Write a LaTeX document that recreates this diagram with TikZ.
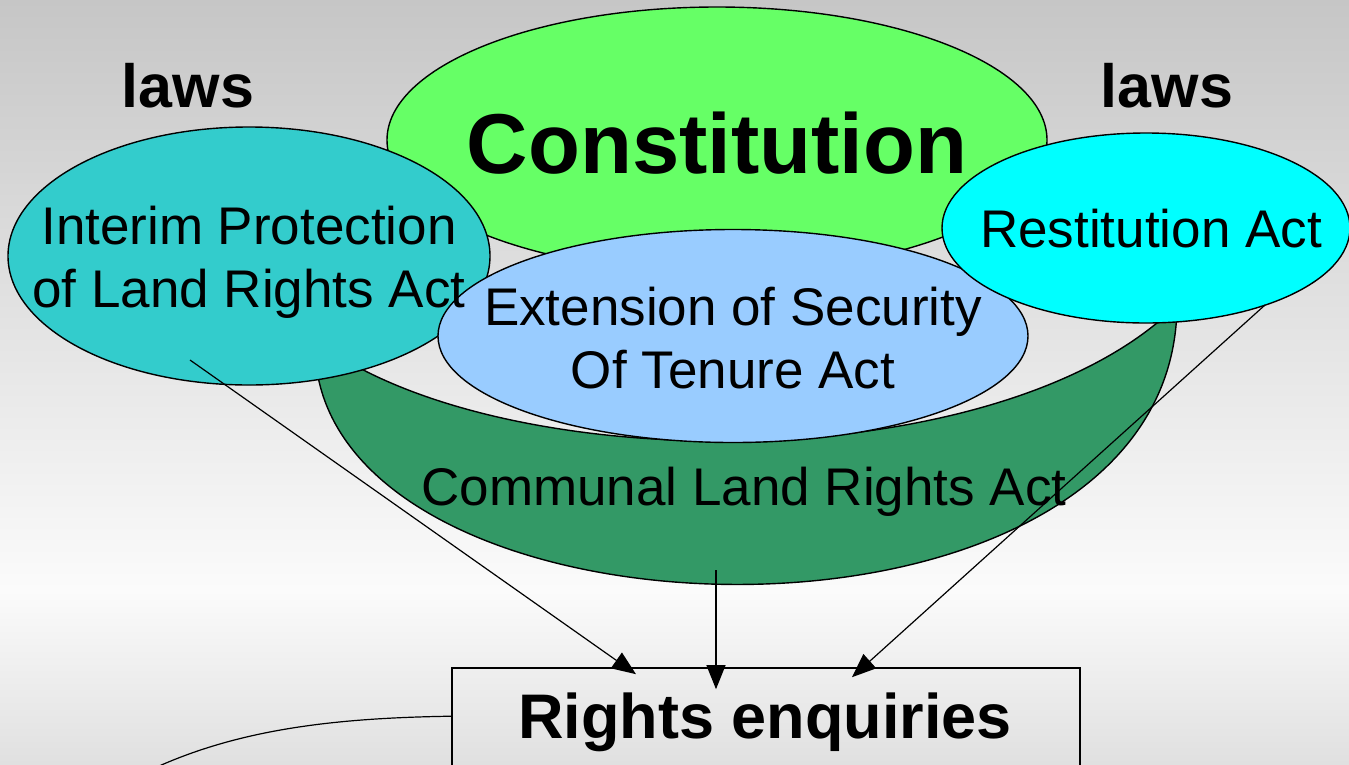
\documentclass[tikz,border=0pt]{standalone}
\usepackage{fontspec}
\setmainfont{Liberation Sans}
\usetikzlibrary{shapes.geometric,arrows.meta,calc}
\definecolor{constgreen}{HTML}{66FF66}
\definecolor{interimteal}{HTML}{33CCCC}
\definecolor{restcyan}{HTML}{00FFFF}
\definecolor{esablue}{HTML}{99CCFF}
\definecolor{clragreen}{HTML}{339966}
\definecolor{slidetop}{HTML}{C6C6C6}
\definecolor{slidemid}{HTML}{FBFBFB}
\definecolor{slidebot}{HTML}{E0E0E0}

\begin{document}
\begin{tikzpicture}[x=1pt,y=-1pt,
  act/.style={ellipse,draw,line width=1.4pt,inner sep=0pt},
  txt/.style={font=\fontsize{53}{63}\selectfont,align=center},
  big/.style={font=\fontsize{#1}{#1}\selectfont\bfseries},
  feed/.style={line width=1.2pt,-{Triangle[length=24pt,width=19pt]}}]
\clip (0,0) rectangle (1349,764);
\shade[top color=slidetop,bottom color=slidemid] (0,0) rectangle (1349,590);
\shade[top color=slidemid,bottom color=slidebot] (0,590) rectangle (1349,764);
\node [act,fill=constgreen,minimum width=660pt,minimum height=266pt] (const) at (717,140) {};
\filldraw [fill=clragreen,line width=1.4pt] (315,350) .. controls (325,660) and (1175,680) .. (1177,305)
  .. controls (1000,480) and (500,480) .. (315,340) -- cycle;
\node [act,fill=interimteal,minimum width=482pt,minimum height=258pt] (ip) at (249,256) {};
\node [act,fill=esablue,minimum width=590pt,minimum height=213pt] (esta) at (733,336) {};
\node [act,fill=restcyan,minimum width=408pt,minimum height=190pt] (ra) at (1146,228) {};
\node [big=85,anchor=base] (consttxt) at (717,173) {Constitution};
\node [big=61,anchor=base] (lawsl) at (188,107) {laws};
\node [big=61,anchor=base] (lawsr) at (1167,107) {laws};
\node [txt] (iptxt) at (249,262) {Interim Protection\\of Land Rights Act};
\node [txt] (estatxt) at (733,338) {Extension of Security\\Of Tenure Act};
\node [txt,anchor=base] (ratxt) at (1151,247) {Restitution Act};
\node [txt,anchor=base] (clra) at (744,505) {Communal Land Rights Act};
\node [draw,line width=1.6pt,minimum width=628pt,minimum height=140pt] (enq) at (766,738) {};
\node [big=63,anchor=base] (enqtxt) at (765,738) {Rights enquiries};
\coordinate (ipfoot) at (190,360);
\coordinate (clrafoot) at (716,570);
\coordinate (rafoot) at (1265,305);
\coordinate (offleft) at (140,775);
\draw [feed] (ipfoot) -- ($(enq.north)+(-130,7)$);
\draw [feed] (clrafoot) -- ($(enq.north)+(-50,22)$);
\draw [feed] (rafoot) -- ($(enq.north)+(86,10)$);
\draw [line width=1.2pt] ($(enq.north west)+(0,49)$) .. controls (330,718) and (230,730) .. (offleft);
\end{tikzpicture}
\end{document}
